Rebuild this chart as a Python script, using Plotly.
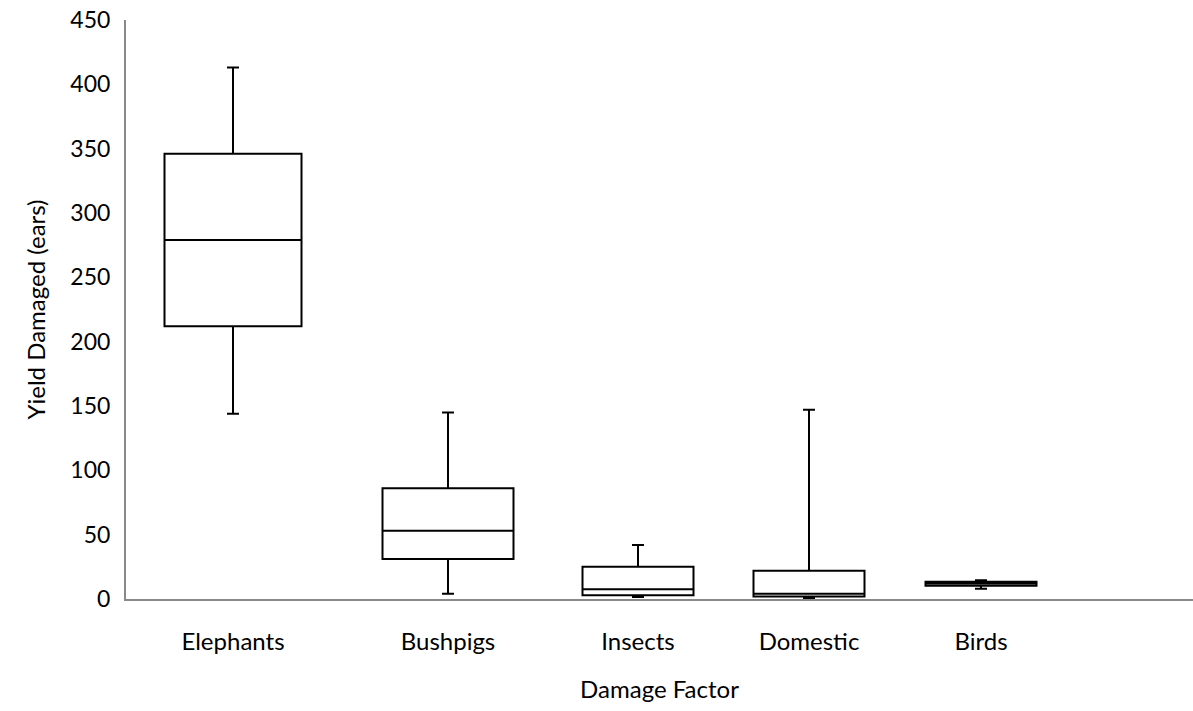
import plotly.graph_objects as go

categories = ["Elephants", "Bushpigs", "Insects", "Domestic", "Birds"]
lower = [144, 4, 1.5, 0.5, 8]
q1 = [212, 31, 3, 2, 10.3]
median = [279, 53, 7.5, 4, 12]
q3 = [346, 86, 25, 22, 13.5]
upper = [413, 145, 42, 147, 14.5]
y_ticks = [0, 50, 100, 150, 200, 250, 300, 350, 400, 450]

# layout: category centres and box widths on a numeric x axis (pixel-like units)
X_CENTERS = [233, 448, 638, 809, 981]
BOX_W = [137, 131, 111, 111, 111]

fig = go.Figure()
for i, c in enumerate(categories):
    fig.add_trace(go.Box(
        x=[X_CENTERS[i]], q1=[q1[i]], median=[median[i]], q3=[q3[i]],
        lowerfence=[lower[i]], upperfence=[upper[i]],
        name=c, width=BOX_W[i], whiskerwidth=12 / BOX_W[i],
        fillcolor="white", line=dict(color="black", width=2),
        boxpoints=False, showlegend=False, hoverinfo="skip",
    ))

font = "Lato, 'Open Sans', sans-serif"
fig.update_layout(
    width=1193, height=711,
    margin=dict(l=126, r=0, t=20, b=112),
    plot_bgcolor="white", paper_bgcolor="white",
    font=dict(family=font, size=23, color="black"),
    showlegend=False,
    xaxis=dict(
        range=[126, 1193], tickvals=X_CENTERS, ticktext=categories,
        showgrid=False, zeroline=False, showline=True, linecolor="#898989",
        linewidth=2, ticks="", ticklabelstandoff=20,
        tickfont=dict(size=24),
        title=dict(text="Damage Factor", font=dict(size=24), standoff=27),
    ),
    yaxis=dict(
        range=[0, 450], tickvals=y_ticks, showgrid=False, zeroline=False,
        showline=True, linecolor="#898989", linewidth=2, ticks="",
        ticklabelstandoff=9,
        title=dict(text="Yield Damaged (ears)", font=dict(size=24), standoff=18),
    ),
)
fig.write_html("out.html")
